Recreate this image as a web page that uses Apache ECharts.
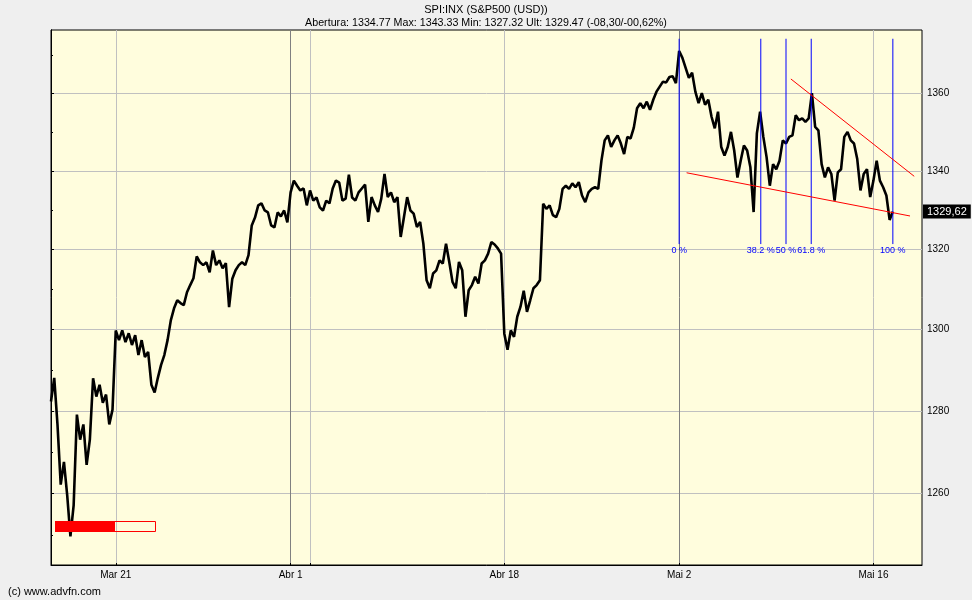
<!DOCTYPE html>
<html><head><meta charset="utf-8">
<script src="https://cdn.jsdelivr.net/npm/echarts@6/dist/echarts.min.js"></script>
<style>html,body{margin:0;padding:0;background:#efefef;}#c{width:972px;height:600px;}</style>
</head><body><div id="c"></div>
<script>
// Intraday S&P 500 prices, 6 samples per trading day (Mar 16 – May 16, 2011)
const prices = [
1282.3,1288.1,1276.7,1262.1,1267.6,1259.6,1249.7,1257.2,1279.1,1273.0,
1276.7,1266.9,1273.0,1288.0,1283.5,1286.4,1282.0,1284.0,1276.7,1280.3,
1299.8,1297.4,1299.8,1296.9,1299.1,1296.2,1298.6,1293.7,1297.4,1293.2,
1294.5,1286.4,1284.5,1288.1,1291.3,1293.7,1297.4,1302.3,1305.3,1307.3,
1306.6,1306.1,1309.3,1311.1,1312.8,1318.3,1316.8,1316.1,1316.8,1314.3,
1319.8,1316.1,1317.3,1315.3,1316.6,1305.6,1312.7,1314.8,1316.1,1316.8,
1316.1,1318.6,1326.1,1328.1,1331.2,1331.7,1329.9,1329.4,1326.1,1325.6,
1329.4,1328.4,1329.9,1326.9,1334.5,1337.5,1336.2,1335.0,1335.5,1331.2,
1335.0,1332.4,1333.2,1330.7,1329.9,1332.4,1331.7,1335.5,1337.5,1337.0,
1332.4,1332.9,1339.0,1333.2,1332.4,1334.5,1335.5,1336.5,1327.0,1333.3,
1331.2,1329.5,1332.9,1339.2,1333.3,1334.5,1332.0,1333.3,1323.2,1328.2,
1333.3,1329.9,1329.1,1325.7,1327.0,1321.5,1312.3,1310.3,1314.0,1314.8,
1317.3,1316.5,1321.5,1316.9,1311.9,1310.3,1316.9,1314.8,1303.2,1309.8,
1311.1,1313.2,1311.5,1316.5,1317.3,1319.0,1321.9,1321.3,1320.3,1319.0,
1299.0,1295.0,1299.8,1298.2,1303.2,1305.7,1309.7,1304.4,1307.3,1310.3,
1311.1,1312.3,1331.6,1330.3,1331.2,1328.7,1328.2,1330.3,1335.4,1336.2,
1335.4,1336.8,1335.8,1337.1,1333.7,1332.0,1334.5,1335.4,1335.8,1335.4,
1342.6,1347.8,1349.1,1346.1,1347.8,1349.1,1347.0,1344.3,1348.7,1348.3,
1351.1,1356.1,1357.4,1356.1,1357.8,1355.7,1358.3,1360.4,1361.7,1363.0,
1362.8,1364.2,1364.4,1362.6,1371.0,1369.2,1366.6,1364.0,1365.3,1360.4,
1357.4,1360.0,1357.0,1358.3,1353.9,1350.9,1355.2,1346.1,1343.9,1346.1,
1350.0,1345.2,1338.3,1342.6,1346.5,1345.2,1340.9,1329.5,1349.6,1355.2,
1348.7,1343.5,1336.2,1341.7,1340.4,1342.6,1347.8,1347.0,1348.7,1349.1,
1354.3,1353.0,1353.5,1352.6,1353.5,1360.0,1351.3,1350.4,1341.7,1338.3,
1340.9,1339.2,1332.4,1339.6,1340.4,1348.7,1350.0,1347.8,1347.0,1343.0,
1335.0,1339.2,1340.4,1333.3,1337.5,1342.6,1337.5,1335.8,1333.7,1327.5,
1329.62
];
const xSlotsTotal = 269;
const xLabelSlots = [20, 74, 140, 194, 254];
const xLabels = ['Mar 21', 'Abr 1', 'Abr 18', 'Mai 2', 'Mai 16'];
const xGridSlots = [20, 74, 80, 140, 194, 254];
const xGridColors = ['#c0c0c0', '#808080', '#c0c0c0', '#c0c0c0', '#808080', '#c0c0c0'];
const yTicks = [1260, 1280, 1300, 1320, 1340, 1360];
const yMinorTicks = [1250, 1260, 1270, 1280, 1290, 1300, 1310, 1320, 1330, 1340, 1350, 1360, 1370];
const yRange = [1242.9, 1376.5];
const fibStart = 194, fibEnd = 260;
const fibLevels = [0, 0.382, 0.5, 0.618, 1];
const fibLabels = ['0 %', '38.2 %', '50 %', '61.8 %', '100 %'];
const fibTop = 1374.2, fibBottom = 1321.4;
const trendLower = [[196.3, 1339.5], [265.3, 1328.5]];
const trendUpper = [[228.5, 1363.7], [266.6, 1338.6]];
const lastPrice = 1329.62;
const titleText = 'SPI:INX (S&P500 (USD))';
const subText = 'Abertura: 1334.77 Max: 1343.33 Min: 1327.32 Ult: 1329.47 (-08,30/-00,62%)';

const L = Math.log;
const FONT = "'Liberation Sans', Arial, sans-serif";
const chart = echarts.init(document.getElementById('c'), null, {renderer: 'canvas'});

// Fibonacci time-zone vertical lines, one line series each
const fibX = fibLevels.map(f => fibStart + (fibEnd - fibStart) * f);
const fibSeries = fibX.map((x, k) => ({
  type: 'line', yAxisIndex: 0, silent: true, symbol: 'none', showSymbol: false, z: 6,
  data: [[x, L(fibTop)], [x, L(fibBottom)]],
  lineStyle: {color: '#0000ff', width: 1},
  itemStyle: {color: '#0000ff'},
  markLine: {silent: true, symbol: ['none', 'none'], animation: false,
    data: [[
      {coord: [x, L(fibTop)], lineStyle: {color: 'rgba(0,0,0,0)', width: 0}},
      {coord: [x, L(fibBottom)], lineStyle: {color: 'rgba(0,0,0,0)', width: 0},
       label: {show: true, position: 'end', distance: 2, formatter: fibLabels[k], color: '#0000ff', fontSize: 9, fontFamily: FONT}}
    ]]}
}));
const trendSeries = [trendLower, trendUpper].map(t => ({
  type: 'line', yAxisIndex: 0, silent: true, symbol: 'none', showSymbol: false, z: 6,
  data: t.map(p => [p[0], L(p[1])]),
  lineStyle: {color: '#ff0000', width: 1},
  itemStyle: {color: '#ff0000'}
}));

const option = {
  animation: false,
  backgroundColor: '#efefef',
  title: [
    {text: titleText, subtext: subText, left: 'center', top: -2, itemGap: 1,
     textStyle: {fontSize: 11, fontWeight: 'normal', color: '#000', fontFamily: FONT, lineHeight: 13},
     subtextStyle: {fontSize: 10.7, color: '#000', fontFamily: FONT, lineHeight: 13}},
    {text: '(c) www.advfn.com', left: 3, bottom: -2,
     textStyle: {fontSize: 11, fontWeight: 'normal', color: '#000', fontFamily: FONT}}
  ],
  grid: {left: 51, right: 50, top: 30, bottom: 35, show: true, containLabel: false, outerBoundsMode: 'none',
    backgroundColor: '#fffddd', borderColor: '#000', borderWidth: 1},
  xAxis: {
    type: 'value', min: 0, max: xSlotsTotal,
    axisLine: {show: true, onZero: false, lineStyle: {color: '#000', width: 1}},
    axisTick: {show: true, inside: true, length: 2, customValues: xGridSlots, lineStyle: {color: '#000'}},
    axisLabel: {customValues: xLabelSlots, margin: 5, fontSize: 10, color: '#000', fontFamily: FONT,
      formatter: v => xLabels[xLabelSlots.indexOf(Math.round(v))] || ''},
    splitLine: {show: true, lineStyle: {color: xGridColors, width: 1}}
  },
  yAxis: [
    {type: 'value', position: 'right', min: L(yRange[0]), max: L(yRange[1]), scale: true,
     axisLine: {show: true, lineStyle: {color: '#000', width: 1}},
     axisTick: {show: true, length: 3, customValues: yTicks.map(L), lineStyle: {color: '#000'}},
     axisLabel: {customValues: yTicks.map(L), margin: 5, fontSize: 10, color: '#000', fontFamily: FONT,
       formatter: v => String(Math.round(Math.exp(v)))},
     splitLine: {show: true, lineStyle: {color: '#c0c0c0', width: 1}}},
    {type: 'value', position: 'left', min: L(yRange[0]), max: L(yRange[1]), scale: true,
     axisLine: {show: true, lineStyle: {color: '#000', width: 1}},
     axisTick: {show: true, inside: true, length: 2, customValues: yMinorTicks.map(L), lineStyle: {color: '#000'}},
     axisLabel: {show: false}, splitLine: {show: false}},
    {type: 'value', position: 'right', min: L(yRange[0]), max: L(yRange[1]), scale: true, z: 10,
     axisLine: {show: false}, axisTick: {show: false}, splitLine: {show: false},
     axisLabel: {customValues: [L(lastPrice)], margin: 1, fontSize: 11, color: '#fff', fontFamily: FONT,
       backgroundColor: '#000', padding: [2, 4, 1, 4],
       formatter: v => Math.exp(v).toFixed(2).replace('.', ',')}}
  ],
  series: [
    {type: 'line', yAxisIndex: 0, data: prices.map((p, i) => [i, L(p)]), showSymbol: false, symbol: 'none',
     lineStyle: {color: '#000', width: 2.6}, itemStyle: {color: '#000'}, z: 3, silent: true}
  ].concat(fibSeries, trendSeries),
  graphic: [
    {type: 'rect', shape: {x: 55.5, y: 521.5, width: 100, height: 10}, style: {fill: 'none', stroke: '#ff0000', lineWidth: 1}, z: 10},
    {type: 'rect', shape: {x: 55, y: 521, width: 60, height: 11}, style: {fill: '#ff0000'}, z: 10}
  ]
};
chart.setOption(option);
</script></body></html>
